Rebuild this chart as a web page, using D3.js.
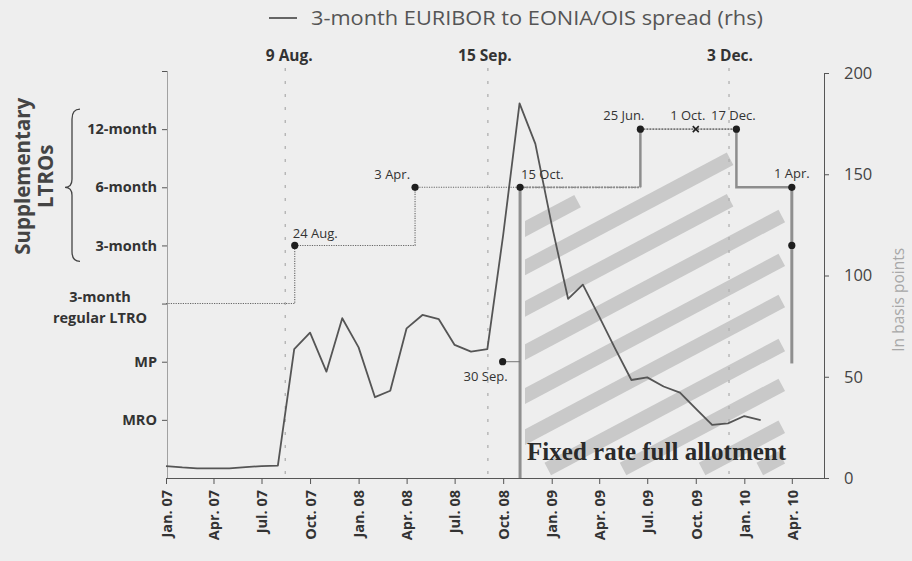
<!DOCTYPE html>
<html><head><meta charset="utf-8">
<script src="https://cdn.jsdelivr.net/npm/d3@7"></script>
<style>
body{margin:0;background:#eeeeee}
svg{display:block;font-family:"Open Sans","Lato",sans-serif}
</style>
</head><body>
<svg id="chart" width="912" height="561"></svg>
<script>
// ---------------- DATA ----------------
const spreadDates = ["2007-01-01","2007-02-01","2007-03-01","2007-04-01","2007-05-01","2007-06-01",
  "2007-07-01","2007-08-01","2007-09-01","2007-10-01","2007-11-01","2007-12-01",
  "2008-01-01","2008-02-01","2008-03-01","2008-04-01","2008-05-01","2008-06-01",
  "2008-07-01","2008-08-01","2008-09-01","2008-10-01","2008-11-01","2008-12-01",
  "2009-01-01","2009-02-01","2009-03-01","2009-04-01","2009-05-01","2009-06-01",
  "2009-07-01","2009-08-01","2009-09-01","2009-10-01","2009-11-01","2009-12-01",
  "2010-01-01","2010-02-01"];
const spreadValues = [5.9,5.2,4.8,4.8,4.8,5.4,5.9,6.1,63.7,71.8,52.5,78.9,
  64.5,39.9,43.1,73.9,80.5,78.4,65.7,62.4,63.6,120,185,165,
  125,88.5,95.5,79.7,64,48.4,49.7,45.2,42.2,34.2,26.2,27,30.6,28.6];

const xTickDates = ["2007-01-01","2007-04-01","2007-07-01","2007-10-01","2008-01-01","2008-04-01",
  "2008-07-01","2008-10-01","2009-01-01","2009-04-01","2009-07-01","2009-10-01","2010-01-01","2010-04-01"];
const xTickLabels = ["Jan. 07","Apr. 07","Jul. 07","Oct. 07","Jan. 08","Apr. 08","Jul. 08","Oct. 08",
  "Jan. 09","Apr. 09","Jul. 09","Oct. 09","Jan. 10","Apr. 10"];

const rightTicks = [0,50,100,150,200];

// operation levels on the left axis
const levelValues = [1,2,3,4,5,6];
const levelLabels = ["MRO","MP","3-month regular LTRO","3-month","6-month","12-month"];

// crisis events (dates where the lines are drawn in the chart)
const eventDates = ["2007-08-15","2008-09-02","2009-12-03"];
const eventLabels = ["9 Aug.","15 Sep.","3 Dec."];

// policy step path: dates and levels
const stepDates = ["2007-01-01","2007-09-02","2007-09-02","2008-04-17","2008-04-17","2009-06-18","2009-06-18","2009-12-17","2009-12-17","2010-04-01"];
const stepLevels = [3,3,4,4,5,5,6,6,5,5];

// annotated points
const pointDates = ["2007-09-02","2008-04-17","2008-11-02","2009-06-18","2009-12-17","2010-04-01","2010-04-01","2008-09-30"];
const pointLevels = [4,5,5,6,6,5,4,2];
const pointLabels = ["24 Aug.","3 Apr.","15 Oct.","25 Jun.","17 Dec.","1 Apr.","","30 Sep."];
const crossDate = "2009-10-01", crossLevel = 6, crossLabel = "1 Oct.";

// full allotment start and the 1 Apr. 2010 phase-out bar
const fullAllotStart = "2008-11-02";
const phaseOutDate = "2010-04-01", phaseOutFrom = 5, phaseOutTo = 1.97;

// hatch bands of the "fixed rate full allotment" area: left-edge value (bp) and end date
const hatchStartBp = [123,104,83.5,62.2,40.5,20.2,-1.5,-21.2,-41.9,-57];
const hatchEndDates = ["2009-02-19","2009-12-05","2009-12-05","2010-03-13","2010-03-13","2010-03-13","2010-03-13","2010-03-13","2010-03-13","2010-03-13"];

// ---------------- CHART ----------------
const P = d3.timeParse("%Y-%m-%d");
const svg = d3.select("#chart");
const x = d3.scaleTime().domain([new Date(2007,0,1), new Date(2010,5,1)]).range([166, 824]);
const yR = d3.scaleLinear().domain([0,200]).range([478, 73]);
const yL = d3.scaleLinear().domain([0,7]).range([478, 71]);

// hatch
const defs = svg.append("defs");
defs.append("clipPath").attr("id","hclip").append("rect")
  .attr("x", x(P(fullAllotStart)) + 5).attr("y", 0).attr("width", 400).attr("height", 478);
const slope = -0.53;
const hg = svg.append("g").attr("clip-path","url(#hclip)");
const x0 = x(P(fullAllotStart)) + 5;
hatchStartBp.forEach((bp, i) => {
  const y0 = yR(bp);
  let xs = x0 - 10, ys = y0 - slope * 10;
  const bottom = 469;
  if (ys > bottom) { xs = x0 + (bottom - y0) / slope; ys = bottom; }
  const xe = x(P(hatchEndDates[i]));
  const ye = y0 + slope * (xe - x0);
  hg.append("line").attr("x1", xs).attr("y1", ys).attr("x2", xe).attr("y2", ye)
    .attr("stroke", "#c9c9c9").attr("stroke-width", 14).attr("stroke-linecap","butt");
});

// event lines
eventDates.forEach((d, i) => {
  const ex = x(P(d));
  svg.append("line").attr("x1", ex).attr("x2", ex).attr("y1", 68).attr("y2", 478)
    .attr("stroke", "#b0b0b0").attr("stroke-width", 1.3).attr("stroke-dasharray", "3,10");
  svg.append("text").attr("x", ex + (i===0?4:(i===1?-3:1))).attr("y", 61).attr("text-anchor","middle")
    .attr("font-weight","bold").attr("font-size", 15.5).attr("fill","#333").text(eventLabels[i]);
});

// axes
const xAxis = svg.append("g").attr("transform","translate(0,478)")
  .call(d3.axisBottom(x).tickValues(xTickDates.map(P)).tickFormat((d,i)=>xTickLabels[i]).tickSize(6).tickSizeOuter(0));
xAxis.select(".domain").attr("stroke","#555");
xAxis.selectAll(".tick line").attr("stroke","#555");
xAxis.selectAll(".tick text").attr("transform","rotate(-90)").attr("text-anchor","end")
  .attr("x",-12).attr("y",0).attr("dy","0.36em").attr("font-size",14.5).attr("font-weight","bold")
  .attr("fill","#333").attr("font-family","'Open Sans', sans-serif");

const lAxis = svg.append("g").attr("transform","translate(167,0)")
  .call(d3.axisLeft(yL).tickValues([...levelValues, 7]).tickFormat((d)=>{
      const i = levelValues.indexOf(d); return (i<0 || levelLabels[i].indexOf("regular")>=0) ? "" : levelLabels[i];
    }).tickSize(5).tickSizeOuter(0).tickPadding(5));
lAxis.select(".domain").attr("stroke","#555").attr("stroke-dasharray","1,1");
lAxis.selectAll(".tick line").attr("stroke","#555");
lAxis.selectAll(".tick text").attr("font-size",14.5).attr("font-weight","bold").attr("fill","#333")
  .attr("font-family","'Open Sans', sans-serif");
// two-line regular LTRO label
const regIdx = levelLabels.findIndex(s => s.indexOf("regular")>=0);
const regText = svg.append("text").attr("text-anchor","middle").attr("font-size",14.5).attr("font-weight","bold").attr("fill","#333");
regText.append("tspan").attr("x",100).attr("y", yL(levelValues[regIdx]) - 2).text("3-month");
regText.append("tspan").attr("x",100).attr("y", yL(levelValues[regIdx]) + 19).text("regular LTRO");

// Supplementary LTROs label + brace
const supT = svg.append("text").attr("transform",`translate(0,${yL(5)-11}) rotate(-90)`)
  .attr("text-anchor","middle").attr("font-size",20.5).attr("font-weight","bold").attr("fill","#444");
supT.append("tspan").attr("x",0).attr("y",30).text("Supplementary");
supT.append("tspan").attr("x",0).attr("y",53).text("LTROs");
const bt = yL(6) - 20, bm = yL(5), bb = yL(4) + 16;
svg.append("path").attr("d",
  `M80,${bt} Q72,${bt} 72,${bt+10} L72,${bm-8} Q72,${bm} 65,${bm} Q72,${bm} 72,${bm+8} L72,${bb-10} Q72,${bb} 80,${bb}`)
  .attr("fill","none").attr("stroke","#444").attr("stroke-width",1.3);

const rAxis = svg.append("g").attr("transform","translate(824,0)")
  .call(d3.axisRight(yR).tickValues(rightTicks).tickSize(5).tickSizeOuter(0).tickPadding(15));
rAxis.select(".domain").attr("stroke","#555");
rAxis.selectAll(".tick line").attr("stroke","#555");
rAxis.selectAll(".tick text").attr("font-size",16.5).attr("fill","#444").attr("font-family","'Open Sans', sans-serif");
svg.append("text").attr("transform",`translate(899,${yR(88)}) rotate(-90)`).attr("text-anchor","middle")
  .attr("dy","0.35em").attr("font-size",15.5).attr("fill","#a8a8a8").text("In basis points");

// policy step lines
const stepPts = stepDates.map((d,i)=>[x(P(d)), yL(stepLevels[i])]);
const ln = d3.line();
const fx = x(P(fullAllotStart));
svg.append("path").attr("d", ln(stepPts.slice(0,6))).attr("fill","none")
  .attr("stroke","#666").attr("stroke-width",1.1).attr("stroke-dasharray","1.2,1.2");
svg.append("path").attr("d", ln([[fx, stepPts[5][1]], stepPts[5]])).attr("fill","none")
  .attr("stroke","#8a8a8a").attr("stroke-width",1.8).attr("stroke-dasharray","2,1");
svg.append("path").attr("d", ln(stepPts.slice(5,7))).attr("fill","none")
  .attr("stroke","#8d8d8d").attr("stroke-width",2.5);
svg.append("path").attr("d", ln(stepPts.slice(6,8))).attr("fill","none")
  .attr("stroke","#777").attr("stroke-width",1.8).attr("stroke-dasharray","2,1");
svg.append("path").attr("d", ln(stepPts.slice(7))).attr("fill","none")
  .attr("stroke","#8d8d8d").attr("stroke-width",2.5);

// full allotment bar and phase-out bar
svg.append("line").attr("x1",fx).attr("x2",fx).attr("y1",yL(5)).attr("y2",478)
  .attr("stroke","#8f8f8f").attr("stroke-width",3);
const px = x(P(phaseOutDate));
svg.append("line").attr("x1",px).attr("x2",px).attr("y1",yL(phaseOutFrom)).attr("y2",yL(phaseOutTo))
  .attr("stroke","#8f8f8f").attr("stroke-width",3);
// 30 Sep connector
const sIdx = pointLabels.indexOf("30 Sep.");
svg.append("line").attr("x1",x(P(pointDates[sIdx]))).attr("x2",fx)
  .attr("y1",yL(pointLevels[sIdx])).attr("y2",yL(pointLevels[sIdx])).attr("stroke","#777").attr("stroke-width",1);

// "Fixed rate full allotment"
svg.append("text").attr("x", fx + 7).attr("y", 460).attr("font-family","'Liberation Serif','Times New Roman',serif")
  .attr("font-weight","bold").attr("font-size",25).attr("fill","#2a2a2a").text("Fixed rate full allotment");

// spread line
const data = spreadDates.map((d,i)=>({date:P(d), v:spreadValues[i]}));
svg.append("path").datum(data).attr("fill","none").attr("stroke","#555").attr("stroke-width",1.8)
  .attr("stroke-linejoin","round")
  .attr("d", d3.line().x(d=>x(d.date)).y(d=>yR(d.v)));

// points & labels
const labelPos = {
  "24 Aug.": {dx:-2, dy:-7, a:"start"},
  "3 Apr.": {dx:-5, dy:-8, a:"end"},
  "15 Oct.": {dx:1, dy:-8, a:"start"},
  "25 Jun.": {dx:4, dy:-9, a:"end"},
  "17 Dec.": {dx:-3, dy:-9, a:"middle"},
  "1 Apr.": {dx:0, dy:-9, a:"middle"},
  "30 Sep.": {dx:5, dy:19, a:"end"}
};
pointDates.forEach((d,i)=>{
  const cx = x(P(d)), cy = yL(pointLevels[i]);
  svg.append("circle").attr("cx",cx).attr("cy",cy).attr("r",3.6).attr("fill","#1e1e1e");
  const lab = pointLabels[i];
  if (lab) {
    const p = labelPos[lab];
    svg.append("text").attr("x",cx+p.dx).attr("y",cy+p.dy).attr("text-anchor",p.a)
      .attr("font-size",13).attr("fill","#333").text(lab);
  }
});
const cxX = x(P(crossDate)), cyX = yL(crossLevel);
svg.append("path").attr("d",`M${cxX-3},${cyX-3}L${cxX+3},${cyX+3}M${cxX+3},${cyX-3}L${cxX-3},${cyX+3}`)
  .attr("stroke","#222").attr("stroke-width",1.6);
svg.append("text").attr("x",cxX-8).attr("y",cyX-9).attr("text-anchor","middle").attr("font-size",13)
  .attr("fill","#333").text(crossLabel);

// legend
svg.append("line").attr("x1",269).attr("x2",297).attr("y1",18).attr("y2",18).attr("stroke","#555").attr("stroke-width",1.8);
svg.append("text").attr("x",311).attr("y",25).attr("font-size",19.5).attr("fill","#555")
  .attr("textLength",452).attr("lengthAdjust","spacingAndGlyphs")
  .text("3-month EURIBOR to EONIA/OIS spread (rhs)");
</script>
</body></html>
